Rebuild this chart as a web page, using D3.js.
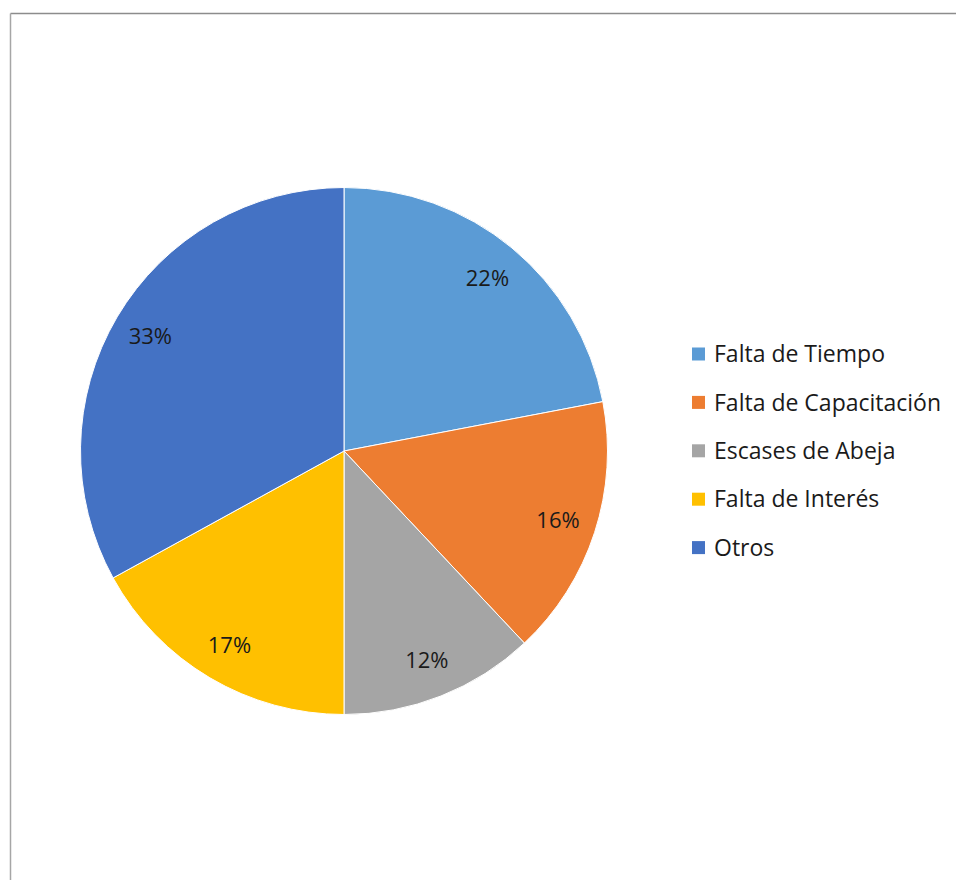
<!DOCTYPE html>
<html>
<head>
<meta charset="utf-8">
<script src="https://cdn.jsdelivr.net/npm/d3@7"></script>
<style>
  body { margin: 0; background: #fff; }
  text { font-family: "Open Sans", Lato, sans-serif; }
</style>
</head>
<body>
<script>
const categories = ["Falta de Tiempo", "Falta de Capacitación", "Escases de Abeja", "Falta de Interés", "Otros"];
const values = [22, 16, 12, 17, 33];
const colors = ["#5b9bd5", "#ed7d31", "#a5a5a5", "#ffc000", "#4472c4"];

const width = 956, height = 880;
const svg = d3.select("body").append("svg").attr("width", width).attr("height", height);

// chart frame (only top and left edges are visible)
svg.append("line").attr("x1", 10.5).attr("y1", 13.5).attr("x2", width).attr("y2", 13.5)
  .attr("stroke", "#8c8c8c").attr("stroke-width", 1.5);
svg.append("line").attr("x1", 10.5).attr("y1", 13.5).attr("x2", 10.5).attr("y2", height)
  .attr("stroke", "#a6a6a6").attr("stroke-width", 1.5);

const cx = 344, cy = 451, r = 263.5;
const pie = d3.pie().sort(null).value(d => d);
const arc = d3.arc().innerRadius(0).outerRadius(r);
const labelArc = d3.arc().innerRadius(225).outerRadius(225);

const g = svg.append("g").attr("transform", `translate(${cx},${cy})`);
const arcs = pie(values);

g.selectAll("path").data(arcs).enter().append("path")
  .attr("d", arc)
  .attr("fill", (d, i) => colors[i])
  .attr("stroke", "#fff").attr("stroke-width", 1);

g.selectAll("text").data(arcs).enter().append("text")
  .attr("transform", d => `translate(${labelArc.centroid(d)})`)
  .attr("text-anchor", "middle")
  .attr("dy", "0.36em")
  .attr("fill", "#1a1a1a")
  .style("font-size", "22px")
  .text(d => d.data + "%");

const legend = svg.append("g").attr("transform", "translate(692,354)");
const item = legend.selectAll("g").data(categories).enter().append("g")
  .attr("transform", (d, i) => `translate(0,${i * 48.4})`);
item.append("rect").attr("x", 0).attr("y", -6.5).attr("width", 13).attr("height", 13)
  .attr("fill", (d, i) => colors[i]);
item.append("text").attr("x", 22).attr("dy", "0.36em")
  .attr("fill", "#1a1a1a")
  .style("font-size", "23px")
  .text(d => d);
</script>
</body>
</html>
